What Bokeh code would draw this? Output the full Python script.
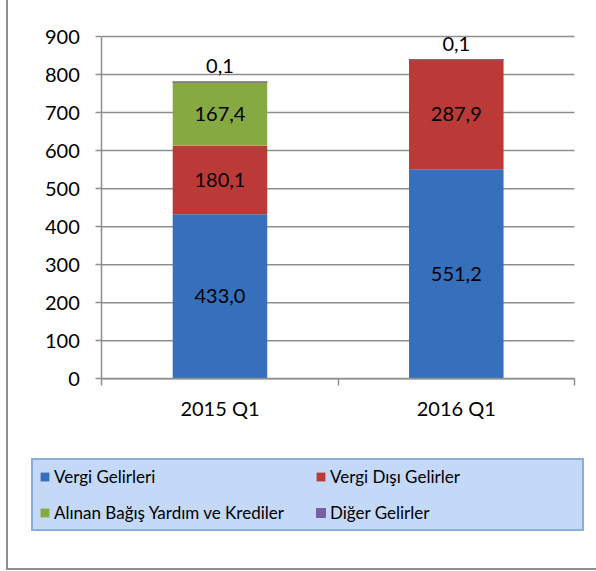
from bokeh.plotting import figure
from bokeh.models import (ColumnDataSource, Legend, LegendItem, LinearAxis,
                          Range1d, FixedTicker)
from bokeh.core.properties import value
from bokeh.embed import file_html
from bokeh.resources import INLINE

# ---- data ----
categories = ["2015 Q1", "2016 Q1"]
series_names = ["Vergi Gelirleri", "Vergi Dışı Gelirler",
                "Alınan Bağış Yardım ve Krediler", "Diğer Gelirler"]
vergi_gelirleri = [433.0, 551.2]
vergi_disi_gelirler = [180.1, 287.9]
bagis_yardim_krediler = [167.4, 0.0]
diger_gelirler = [0.1, 0.1]
y_ticks = [0, 100, 200, 300, 400, 500, 600, 700, 800, 900]

series_values = [vergi_gelirleri, vergi_disi_gelirler, bagis_yardim_krediler, diger_gelirler]
keys = ["vg", "vdg", "aby", "dg"]
colors = ["#3670bd", "#bb3a37", "#87a941", "#7b5ea6"]
FONT = "Lato"
AXIS_GRAY = "#8e8e8e"


def fmt(v):
    return f"{v:.1f}".replace(".", ",")


n_cat = len(categories)
# category positions (centre of each category slot)
xpos = [i + 0.5 for i in range(n_cat)]

data = {"x": xpos}
for k, vals in zip(keys, series_values):
    data[k] = vals
source = ColumnDataSource(data)

# the frame covers the whole chart area (so the legend below is not clipped);
# the category slots 0..n_cat occupy the plot area part of it
p = figure(x_range=Range1d(-0.344, n_cat + 0.0764), y_range=Range1d(-483.0, 929),
           width=590, height=570, output_backend="svg", toolbar_location=None,
           min_border_left=12, min_border_right=6, min_border_top=25,
           min_border_bottom=8, x_axis_location=None, y_axis_location=None)
p.outline_line_color = None
p.background_fill_color = "white"
p.border_fill_color = "white"
p.styles = {"margin-left": "6px",
            "border-left": f"2px solid {AXIS_GRAY}",
            "border-bottom": f"2px solid {AXIS_GRAY}"}
for g in list(p.grid):
    g.visible = False

# horizontal gridlines across the category slots
p.segment(x0=[0] * len(y_ticks), x1=[n_cat] * len(y_ticks), y0=y_ticks, y1=y_ticks,
          line_color=AXIS_GRAY, line_width=1.5)

# stacked bars
renderers = p.vbar_stack(keys, x="x", width=0.4, source=source,
                         fill_color=colors,
                         line_color=[None, None, None, colors[3]],
                         line_width=1.2)

# y axis at x = 0
yaxis = LinearAxis(ticker=FixedTicker(ticks=y_ticks), bounds=(0, 900),
                   fixed_location=0)
yaxis.axis_line_color = AXIS_GRAY
yaxis.axis_line_width = 1.5
yaxis.major_tick_line_color = AXIS_GRAY
yaxis.major_tick_line_width = 1.5
yaxis.major_tick_out = 6
yaxis.major_tick_in = 0
yaxis.minor_tick_line_color = None
yaxis.major_label_standoff = 16
yaxis.major_label_text_font = FONT
yaxis.major_label_text_font_size = "20px"
yaxis.major_label_text_color = "black"
p.add_layout(yaxis, "left")

# x axis at y = 0 with ticks at the category boundaries
tick_axis = LinearAxis(ticker=FixedTicker(ticks=list(range(n_cat + 1))),
                       bounds=(0, n_cat), fixed_location=0)
tick_axis.axis_line_color = AXIS_GRAY
tick_axis.axis_line_width = 1.5
tick_axis.major_tick_line_color = AXIS_GRAY
tick_axis.major_tick_line_width = 1.5
tick_axis.major_tick_out = 7
tick_axis.major_tick_in = 0
tick_axis.minor_tick_line_color = None
tick_axis.major_label_standoff = 0
tick_axis.major_label_text_font_size = "1px"
tick_axis.major_label_text_alpha = 0
p.add_layout(tick_axis, "below")

# category labels under the axis
cat_src = ColumnDataSource(dict(x=xpos, y=[0] * n_cat, t=categories))
p.text(x="x", y="y", text="t", source=cat_src, text_font=value(FONT),
       text_font_size="20px", text_color="black", text_align="center",
       text_baseline="middle", y_offset=29)

# data labels
lx, ly, lt = [], [], []
for i, x in enumerate(xpos):
    bottom = 0.0
    for vals in series_values[:-1]:
        v = vals[i]
        if v > 0:
            lx.append(x)
            ly.append(bottom + v / 2)
            lt.append(fmt(v))
        bottom += v
lab_src = ColumnDataSource(dict(x=lx, y=ly, t=lt))
p.text(x="x", y="y", text="t", source=lab_src, text_font=value(FONT),
       text_font_size="20px", text_color="black", text_align="center",
       text_baseline="middle")

tx, ty, tt = [], [], []
for i, x in enumerate(xpos):
    total = sum(vals[i] for vals in series_values)
    tx.append(x)
    ty.append(total)
    tt.append(fmt(diger_gelirler[i]))
top_src = ColumnDataSource(dict(x=tx, y=ty, t=tt))
p.text(x="x", y="y", text="t", source=top_src, text_font=value(FONT),
       text_font_size="20px", text_color="black", text_align="center",
       text_baseline="bottom", y_offset=-9)

# legend
items = [LegendItem(label=n, renderers=[r]) for n, r in zip(series_names, renderers)]
legend = Legend(items=items, orientation="horizontal", ncols=2,
                location=(11, 31))
legend.label_text_font = FONT
legend.label_text_font_size = "17px"
legend.label_text_color = "black"
legend.glyph_width = 11
legend.glyph_height = 11
legend.label_standoff = 4
legend.label_width = 246
legend.label_height = 20
legend.spacing = 15
legend.padding = 6
legend.margin = 0
legend.background_fill_color = "#c4d8f8"
legend.background_fill_alpha = 1
legend.border_line_color = "#4f81bd"
legend.border_line_width = 2
p.add_layout(legend, "center")

open("out.html", "w").write(file_html(p, INLINE))
